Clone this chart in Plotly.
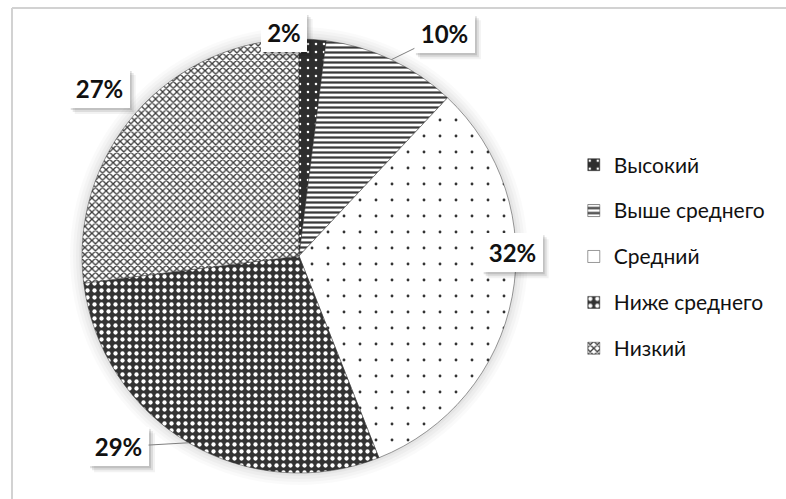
import math
import plotly.graph_objects as go

# Distribution of levels (percent)
categories = ["Высокий", "Выше среднего", "Средний", "Ниже среднего", "Низкий"]
values = [2, 10, 32, 29, 27]

# Pie geometry in pixels (786 x 499 canvas)
W, H = 786, 499
CX, CY, R = 299, 256, 217

# Per-slice fill patterns (grayscale)
base_colors = ["#2e2e2e", "#ffffff", "#ffffff", "#333333", "#ffffff"]
pat_shapes = [".", "-", ".", ".", "x"]
pat_fg = ["#ffffff", "#3a3a3a", "#333333", "#ffffff", "#3a3a3a"]
pat_size = [8, 5, 16, 7, 5]
pat_solid = [0.08, 0.45, 0.025, 0.3, 0.45]

# Label offsets from slice edge (px) and leader visibility
label_offsets = [(-29, -7), (53, -26), (0, -44), (-70, 4), (-37, -24)]
show_leader = [False, True, False, True, False]

# Legend text is set smaller than the legend font so rows get taller spacing
legend_labels = [
    f"<span style='font-size:21px;baseline-shift:5px'>{c}</span>" for c in categories
]

fig = go.Figure()
fig.add_trace(go.Pie(
    labels=legend_labels,
    values=values,
    sort=False,
    direction="clockwise",
    rotation=0,
    textinfo="none",
    hoverinfo="label+percent",
    marker=dict(
        colors=base_colors,
        line=dict(color="#333333", width=0.5),
        pattern=dict(shape=pat_shapes, fgcolor=pat_fg, bgcolor=base_colors,
                     size=pat_size, solidity=pat_solid, fillmode="replace"),
    ),
    domain=dict(x=[(CX - R) / W, (CX + R) / W], y=[1 - (CY + R) / H, 1 - (CY - R) / H]),
))

shapes = [
    # chart frame (top and left edges)
    dict(type="line", xref="paper", yref="paper", x0=12 / W, x1=1, y0=1 - 8 / H, y1=1 - 8 / H,
         line=dict(color="#d2d2d2", width=2)),
    dict(type="line", xref="paper", yref="paper", x0=12 / W, x1=12 / W, y0=0, y1=1 - 8 / H,
         line=dict(color="#d2d2d2", width=2)),
]
# soft glow around the pie
for extra, a in ((12, 0.018), (9, 0.022), (6, 0.026), (3, 0.03)):
    shapes.append(dict(
        type="circle", xref="paper", yref="paper", layer="below",
        xsizemode="pixel", ysizemode="pixel", xanchor=CX / W, yanchor=1 - CY / H,
        x0=-(R + extra), x1=R + extra, y0=-(R + extra), y1=R + extra,
        fillcolor=f"rgba(0,0,0,{a})", line=dict(width=0),
    ))

# Percentage labels placed from the mid-angle of each slice
total = sum(values)
annotations = []
cum = 0
PAD = 4
for v, (ox, oy), lead in zip(values, label_offsets, show_leader):
    mid = (cum + v / 2) / total * 2 * math.pi
    cum += v
    px = CX + R * math.sin(mid)
    py = CY - R * math.cos(mid)
    xp, yp = px / W, 1 - py / H
    pct = round(v / total * 100)
    txt = f"<b>{pct}%</b>"
    half_w = (15 * len(f"{pct}%") + 6) / 2
    half_h = 14.5
    # drop shadow behind the label box
    bw, bh = half_w + PAD + 1, half_h + PAD + 1
    for d, a in ((6, 0.05), (4, 0.09), (2, 0.12)):
        shapes.append(dict(
            type="rect", xref="paper", yref="paper", layer="above",
            xsizemode="pixel", ysizemode="pixel", xanchor=xp, yanchor=yp,
            x0=ox - bw + d, x1=ox + bw + d,
            y0=-oy - bh - d, y1=-oy + bh - d,
            fillcolor=f"rgba(0,0,0,{a})", line=dict(width=0),
        ))
    annotations.append(dict(
        x=xp, y=yp, xref="paper", yref="paper", ax=ox, ay=oy,
        text=txt, showarrow=True, arrowhead=0, arrowwidth=1,
        arrowcolor="#7f7f7f" if lead else "rgba(0,0,0,0)",
        font=dict(family="Lato", size=24, color="#111111"),
        bgcolor="#ffffff", borderpad=PAD, borderwidth=1, bordercolor="#ffffff",
        width=2 * half_w, height=2 * half_h,
    ))

fig.update_layout(
    width=W, height=H,
    margin=dict(l=0, r=0, t=0, b=0),
    paper_bgcolor="#ffffff",
    plot_bgcolor="#ffffff",
    showlegend=True,
    legend=dict(
        x=0.73, y=0.726, xanchor="left", yanchor="top",
        font=dict(family="Lato", size=33, color="#111111"),
        itemwidth=30, bgcolor="rgba(0,0,0,0)",
    ),
    annotations=annotations,
    shapes=shapes,
)

fig.write_html("out.html")
